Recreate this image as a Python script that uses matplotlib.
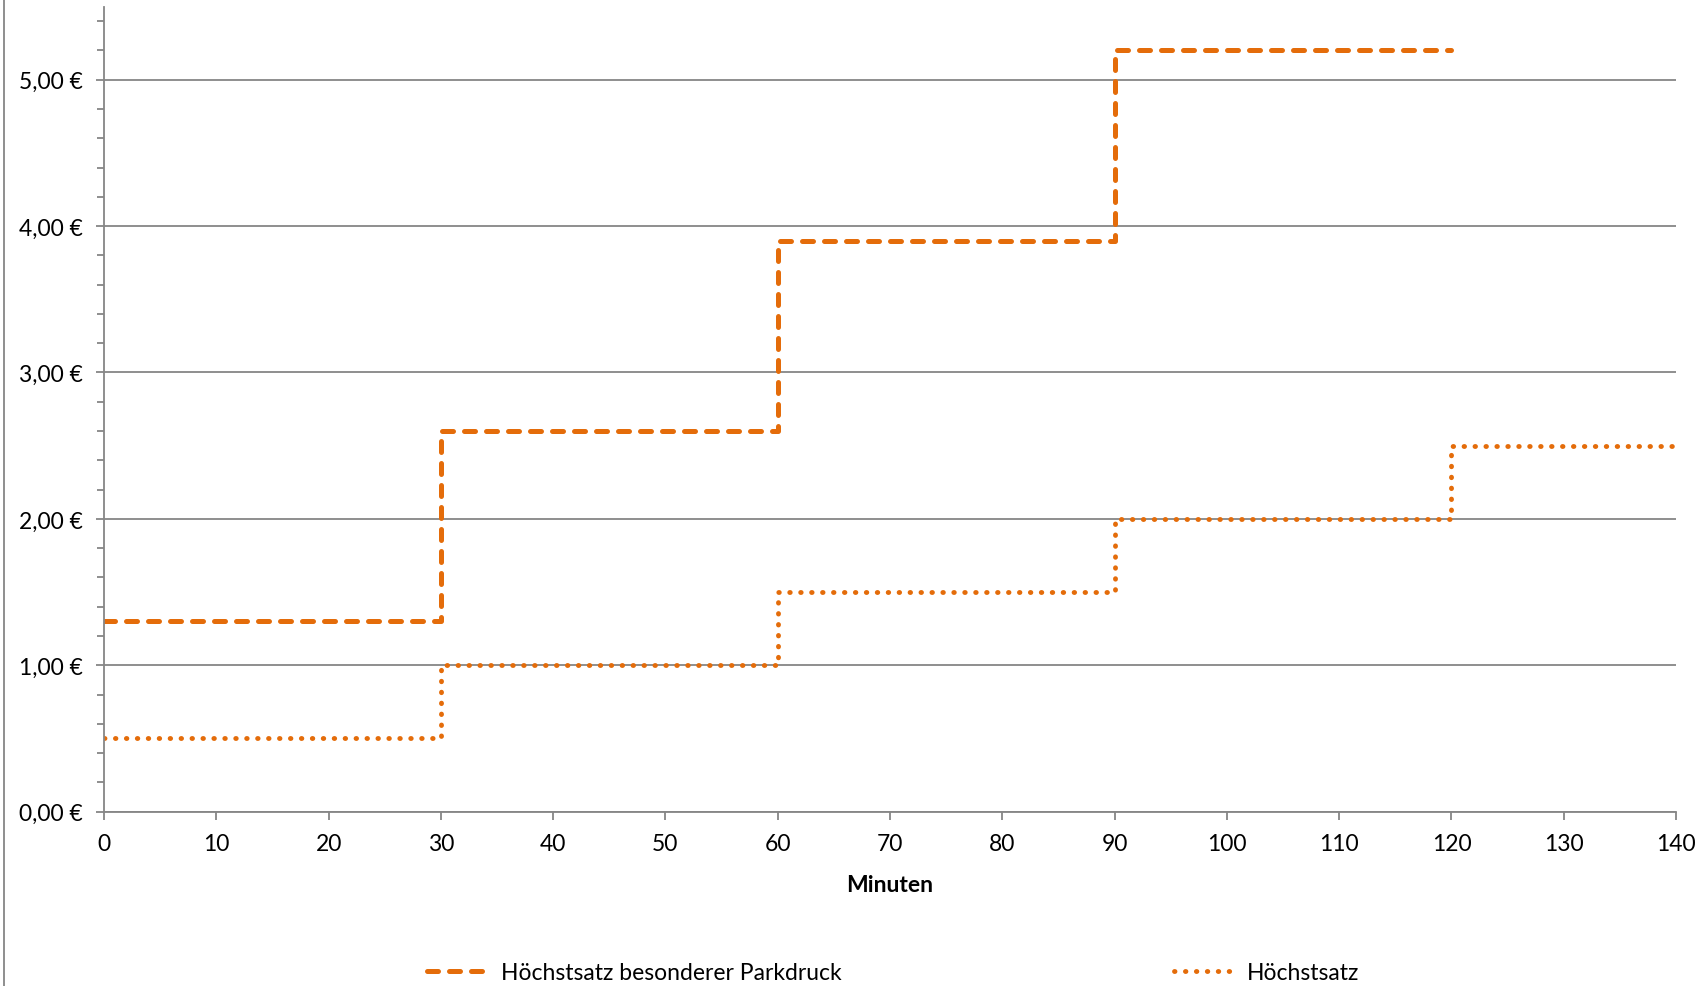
import matplotlib
matplotlib.use("Agg")
import matplotlib.pyplot as plt
from matplotlib.ticker import MultipleLocator, FuncFormatter
from matplotlib.lines import Line2D

# Tarifstufen (Minuten / Euro)
minuten_park = [0, 30, 60, 90, 120]
preis_park = [1.30, 2.60, 3.90, 5.20, 5.20]
minuten_hoechst = [0, 30, 60, 90, 120, 140]
preis_hoechst = [0.50, 1.00, 1.50, 2.00, 2.50, 2.50]

label_park = "Höchstsatz besonderer Parkdruck"
label_hoechst = "Höchstsatz"
x_label = "Minuten"

orange = "#E46C0A"
grau = "#868686"
fs = 16.5

plt.rcParams['font.family'] = ['Lato', 'DejaVu Sans']

fig = plt.figure(figsize=(17.05, 9.87), dpi=100)
ax = fig.add_axes([0.061, 0.1766, 0.922, 0.8158])

l1, = ax.step(minuten_park, preis_park, where='post', color=orange, lw=3.6,
              solid_capstyle='round', dash_capstyle='round')
l1.set_dashes((2.2, 2.2))
l2, = ax.step(minuten_hoechst, preis_hoechst, where='post', color=orange, lw=3.5,
              dash_capstyle='round')
l2.set_dashes((0.1, 2.15))

ax.set_xlim(0, 140)
ax.set_ylim(0, 5.5)
ax.xaxis.set_major_locator(MultipleLocator(10))
ax.yaxis.set_major_locator(MultipleLocator(1))
ax.yaxis.set_minor_locator(MultipleLocator(0.2))
ax.yaxis.set_major_formatter(FuncFormatter(lambda v, p: f"{v:.2f}".replace('.', ',') + " €"))

ax.grid(axis='y', which='major', color=grau, lw=1.3)
ax.set_axisbelow(True)
for s in ['top', 'right']:
    ax.spines[s].set_visible(False)
for s in ['left', 'bottom']:
    ax.spines[s].set_color(grau)
    ax.spines[s].set_linewidth(1.3)

ax.tick_params(axis='both', which='both', direction='out', color=grau, width=1.3, labelsize=fs)
ax.tick_params(axis='y', which='major', length=6, pad=9)
ax.tick_params(axis='y', which='minor', length=5)
ax.tick_params(axis='x', which='major', length=6, pad=9)

ax.set_xlabel(x_label, fontsize=fs, fontweight='bold', labelpad=15)

# linker Rahmen des Diagrammbereichs
fig.add_artist(Line2D([0.0025, 0.0025], [0, 1], transform=fig.transFigure, color=grau, lw=1.3))

h1 = Line2D([], [], color=orange, lw=3.6, dash_capstyle='round')
h1.set_dashes((2.2, 2.2))
h2 = Line2D([], [], color=orange, lw=3.5, dash_capstyle='round')
h2.set_dashes((0.1, 2.15))
fig.legend([h1, h2], [label_park, label_hoechst], loc='center',
           bbox_to_anchor=(0.524, 0.014), ncol=2, frameon=False, fontsize=fs,
           handlelength=2.6, columnspacing=14.5, handletextpad=0.6)

fig.savefig("out.png", dpi=100)
